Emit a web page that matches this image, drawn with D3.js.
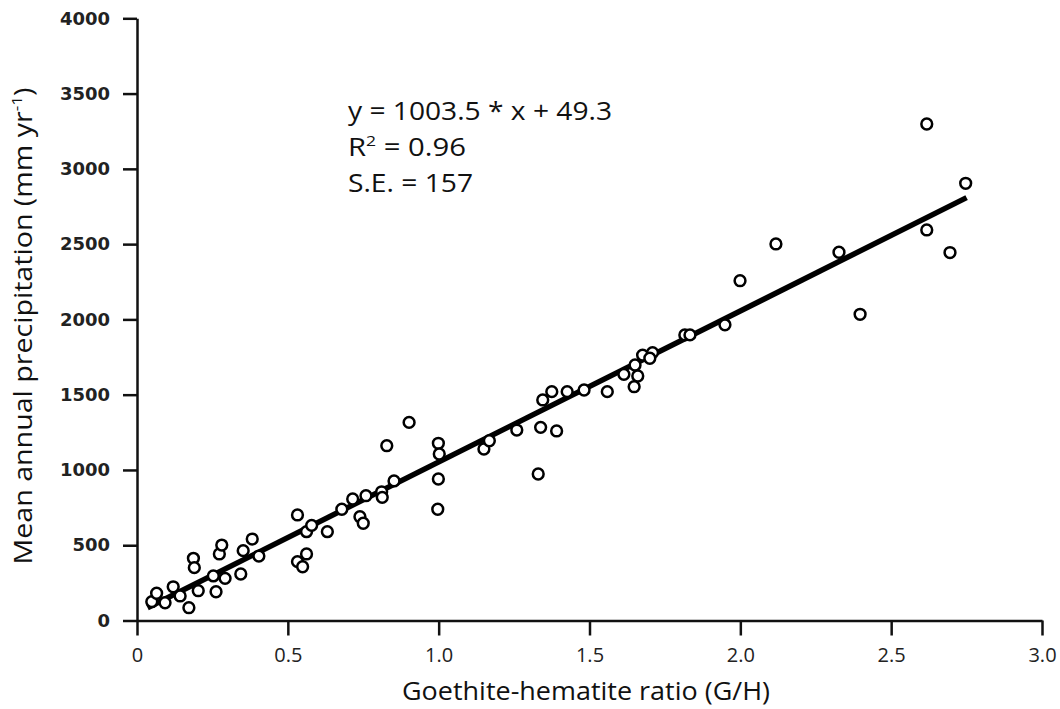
<!DOCTYPE html>
<html>
<head>
<meta charset="utf-8">
<script src="https://cdn.jsdelivr.net/npm/d3@7"></script>
<style>
  html, body { margin: 0; padding: 0; background: #fff; }
  svg { display: block; }
</style>
</head>
<body>
<svg id="chart" width="1060" height="709"></svg>
<script>
// Goethite-hematite ratio (G/H) per site
const ratioGH = [
  0.049, 0.065, 0.093, 0.120, 0.143, 0.172, 0.187, 0.190, 0.203, 0.253,
  0.262, 0.273, 0.281, 0.292, 0.344, 0.352, 0.382, 0.404, 0.532, 0.532,
  0.549, 0.562, 0.562, 0.579, 0.631, 0.679, 0.715, 0.739, 0.750, 0.759,
  0.811, 0.813, 0.852, 0.828, 0.902, 0.999, 1.002, 0.999, 0.997, 1.150,
  1.168, 1.259, 1.338, 1.391, 1.330, 1.345, 1.375, 1.426, 1.482, 1.559,
  1.614, 1.651, 1.660, 1.648, 1.676, 1.709, 1.700, 1.816, 1.833, 1.949,
  1.999, 2.118, 2.327, 2.397, 2.618, 2.695, 2.618, 2.747
];
// Mean annual precipitation (mm/yr) per site
const precipitation = [
  125, 181, 118, 224, 163, 85, 413, 351, 198, 296,
  191, 442, 501, 280, 309, 464, 541, 428, 701, 391,
  357, 442, 590, 632, 590, 739, 807, 689, 646, 829,
  855, 818, 927, 1161, 1316, 1177, 1106, 940, 739, 1139,
  1194, 1265, 1283, 1259, 973, 1465, 1520, 1520, 1531, 1520,
  1635, 1697, 1624, 1553, 1763, 1779, 1742, 1897, 1897, 1964,
  2257, 2501, 2446, 2034, 2594, 2444, 3298, 2904
];
// Linear fit
const fitSlope = 1003.5;
const fitIntercept = 49.3;
const fitRange = [0.035, 2.75];

const xTicks = [0, 0.5, 1.0, 1.5, 2.0, 2.5, 3.0];
const xTickLabels = ["0", "0.5", "1.0", "1.5", "2.0", "2.5", "3.0"];
const yTicks = [0, 500, 1000, 1500, 2000, 2500, 3000, 3500, 4000];

const svg = d3.select("#chart");
const x = d3.scaleLinear().domain([0, 3]).range([137, 1042]);
const y = d3.scaleLinear().domain([0, 4000]).range([620.5, 18.3]);

const textFont = "'Open Sans', Lato, sans-serif";

// Y axis
const gy = svg.append("g")
  .attr("transform", `translate(${x(0)},0)`)
  .call(d3.axisLeft(y).tickValues(yTicks).tickSize(14).tickSizeOuter(0).tickPadding(13).tickFormat(d3.format("d")));
gy.select(".domain").attr("stroke", "#111").attr("stroke-width", 2.5);
gy.selectAll(".tick line").attr("stroke", "#111").attr("stroke-width", 2.5);
gy.selectAll(".tick text")
  .attr("fill", "#222")
  .style("font-family", "'DejaVu Sans', sans-serif")
  .style("font-weight", "bold")
  .style("font-size", "18px");

// X axis
const gx = svg.append("g")
  .attr("transform", `translate(0,${y(0)})`)
  .call(d3.axisBottom(x).tickValues(xTicks).tickSize(15).tickSizeOuter(0).tickPadding(12)
    .tickFormat((d, i) => xTickLabels[i]));
gx.select(".domain").attr("stroke", "#111").attr("stroke-width", 2.5);
gx.selectAll(".tick line").attr("stroke", "#111").attr("stroke-width", 2.5);
gx.selectAll(".tick text")
  .attr("fill", "#222")
  .style("font-family", textFont)
  .style("font-size", "20px");

// Fit line
svg.append("line")
  .attr("x1", x(fitRange[0])).attr("y1", y(fitSlope * fitRange[0] + fitIntercept))
  .attr("x2", x(fitRange[1])).attr("y2", y(fitSlope * fitRange[1] + fitIntercept))
  .attr("stroke", "#000").attr("stroke-width", 5.5);

// Sites
svg.append("g").selectAll("circle")
  .data(ratioGH.map((r, i) => [r, precipitation[i]]))
  .join("circle")
  .attr("cx", d => x(d[0]))
  .attr("cy", d => y(d[1]))
  .attr("r", 5.4)
  .attr("fill", "#fff")
  .attr("stroke", "#000")
  .attr("stroke-width", 2.5);

// Fit statistics
const stats = svg.append("g")
  .style("font-family", textFont)
  .style("font-size", "25px")
  .attr("fill", "#111");
stats.append("text").attr("x", 348).attr("y", 120)
  .attr("textLength", 264).attr("lengthAdjust", "spacingAndGlyphs")
  .text("y = 1003.5 * x + 49.3");
const r2 = stats.append("text").attr("x", 348).attr("y", 156)
  .attr("textLength", 118).attr("lengthAdjust", "spacingAndGlyphs");
r2.append("tspan").text("R");
r2.append("tspan").attr("dy", -10).style("font-size", "15px").text("2");
r2.append("tspan").attr("dy", 10).text(" = 0.96");
stats.append("text").attr("x", 348).attr("y", 192)
  .attr("textLength", 125).attr("lengthAdjust", "spacingAndGlyphs")
  .text("S.E. = 157");

// Axis titles
svg.append("text")
  .attr("x", 586).attr("y", 700)
  .attr("text-anchor", "middle")
  .attr("textLength", 368).attr("lengthAdjust", "spacingAndGlyphs")
  .style("font-family", textFont)
  .style("font-size", "25px")
  .attr("fill", "#111")
  .text("Goethite-hematite ratio (G/H)");

const yt = svg.append("text")
  .attr("transform", "translate(32,326) rotate(-90)")
  .attr("text-anchor", "middle")
  .attr("textLength", 477).attr("lengthAdjust", "spacingAndGlyphs")
  .style("font-family", textFont)
  .style("font-size", "25px")
  .attr("fill", "#111");
yt.append("tspan").text("Mean annual precipitation (mm yr");
yt.append("tspan").attr("dy", -10).style("font-size", "15px").text("-1");
yt.append("tspan").attr("dy", 10).text(")");
</script>
</body>
</html>
